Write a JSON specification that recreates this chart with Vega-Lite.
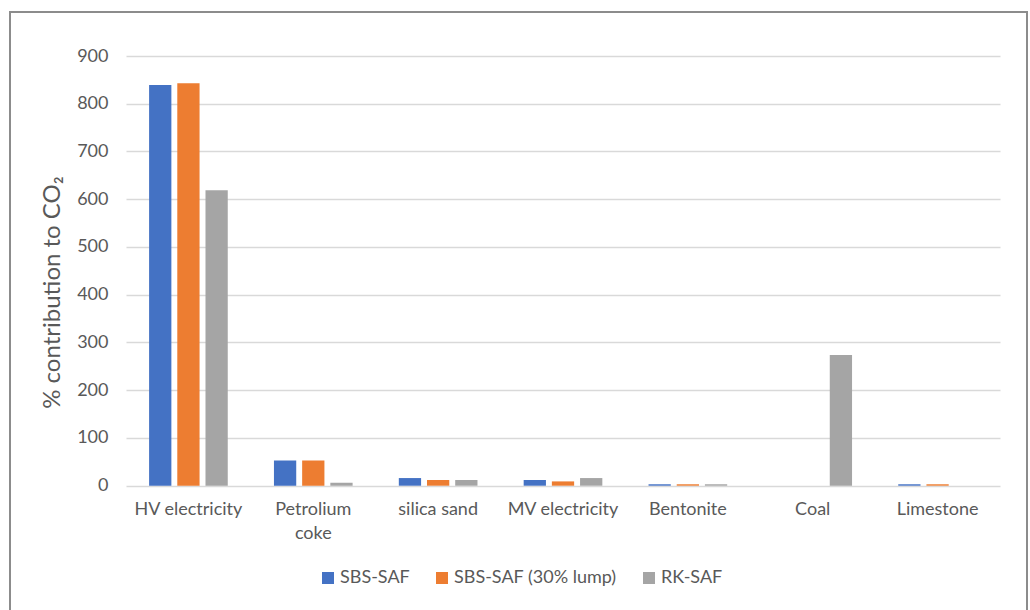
{
  "$schema": "https://vega.github.io/schema/vega-lite/v6.json",
  "autosize": {"type": "none"},
  "padding": {"left": 10, "top": 12, "right": 3, "bottom": 0},
  "width": 1017,
  "height": 600,
  "background": "white",
  "config": {
    "font": "Lato",
    "view": {"stroke": "#8c8c8c", "strokeWidth": 2},
    "axis": {"labelColor": "#595959", "titleColor": "#595959", "labelFont": "Lato", "titleFont": "Lato"}
  },
  "data": {
    "values": [
      {"source": "HV electricity", "scenario": "SBS-SAF", "co2": 839},
      {"source": "HV electricity", "scenario": "SBS-SAF (30% lump)", "co2": 843},
      {"source": "HV electricity", "scenario": "RK-SAF", "co2": 619},
      {"source": "Petrolium coke", "scenario": "SBS-SAF", "co2": 53},
      {"source": "Petrolium coke", "scenario": "SBS-SAF (30% lump)", "co2": 53},
      {"source": "Petrolium coke", "scenario": "RK-SAF", "co2": 6},
      {"source": "silica sand", "scenario": "SBS-SAF", "co2": 16},
      {"source": "silica sand", "scenario": "SBS-SAF (30% lump)", "co2": 12},
      {"source": "silica sand", "scenario": "RK-SAF", "co2": 12},
      {"source": "MV electricity", "scenario": "SBS-SAF", "co2": 12},
      {"source": "MV electricity", "scenario": "SBS-SAF (30% lump)", "co2": 9},
      {"source": "MV electricity", "scenario": "RK-SAF", "co2": 16},
      {"source": "Bentonite", "scenario": "SBS-SAF", "co2": 3},
      {"source": "Bentonite", "scenario": "SBS-SAF (30% lump)", "co2": 3},
      {"source": "Bentonite", "scenario": "RK-SAF", "co2": 3},
      {"source": "Coal", "scenario": "SBS-SAF", "co2": 0},
      {"source": "Coal", "scenario": "SBS-SAF (30% lump)", "co2": 0},
      {"source": "Coal", "scenario": "RK-SAF", "co2": 274},
      {"source": "Limestone", "scenario": "SBS-SAF", "co2": 3},
      {"source": "Limestone", "scenario": "SBS-SAF (30% lump)", "co2": 3},
      {"source": "Limestone", "scenario": "RK-SAF", "co2": 0}
    ]
  },
  "mark": {"type": "bar"},
  "encoding": {
    "x": {
      "field": "source",
      "type": "nominal",
      "sort": null,
      "scale": {"range": [116, 990], "paddingInner": 0.37, "paddingOuter": 0.185},
      "axis": {
        "title": null,
        "orient": "bottom",
        "offset": -126,
        "domain": false,
        "ticks": false,
        "labelAngle": 0,
        "labelFontSize": 18,
        "labelPadding": 14,
        "labelLineHeight": 24,
        "labelExpr": "datum.label == 'Petrolium coke' ? ['Petrolium', 'coke'] : datum.label"
      }
    },
    "xOffset": {
      "field": "scenario",
      "type": "nominal",
      "scale": {"domain": ["SBS-SAF", "SBS-SAF (30% lump)", "RK-SAF"], "paddingInner": 0.21}
    },
    "y": {
      "field": "co2",
      "type": "quantitative",
      "scale": {"domain": [0, 900], "range": [473.7, 44], "nice": false},
      "axis": {
        "title": "% contribution to CO₂",
        "titleFontSize": 24,
        "titleFontWeight": "normal",
        "titlePadding": 12,
        "titleY": 280,
        "offset": -116,
        "values": [0, 100, 200, 300, 400, 500, 600, 700, 800, 900],
        "domain": false,
        "ticks": false,
        "labelFontSize": 18,
        "labelPadding": 18,
        "gridColor": "#d9d9d9",
        "gridWidth": 1.3
      }
    },
    "color": {
      "field": "scenario",
      "type": "nominal",
      "scale": {
        "domain": ["SBS-SAF", "SBS-SAF (30% lump)", "RK-SAF"],
        "range": ["#4472c4", "#ed7d31", "#a5a5a5"]
      },
      "legend": {
        "title": null,
        "orient": "none",
        "direction": "horizontal",
        "legendX": 309,
        "legendY": 557,
        "symbolType": "square",
        "symbolSize": 144,
        "symbolStrokeWidth": 0,
        "labelFontSize": 18,
        "labelColor": "#595959",
        "labelFont": "Lato",
        "labelLimit": 0,
        "labelOffset": 3,
        "columnPadding": 23
      }
    }
  }
}
